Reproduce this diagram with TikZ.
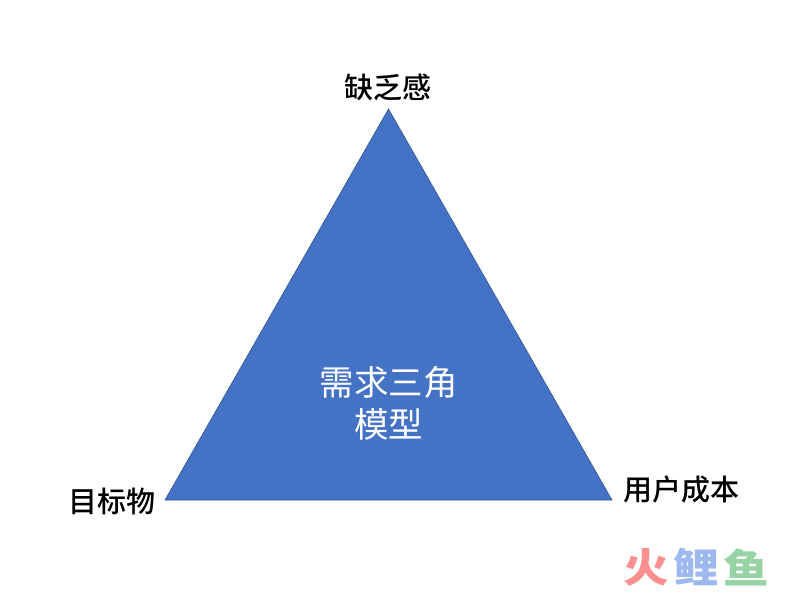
\documentclass[tikz,border=0pt]{standalone}
\usepackage{fontspec}
\setmainfont{Noto Sans CJK SC}
\newfontfamily\cornerfont{Noto Sans CJK SC Medium}
\usetikzlibrary{positioning}
\definecolor{triblue}{HTML}{4472C4}
\definecolor{triedge}{HTML}{2F528F}
\definecolor{markred}{HTML}{FB8E8E}
\definecolor{markblue}{HTML}{9DB9F0}
\definecolor{markgreen}{HTML}{97D3A5}
\tikzset{
    cornerlabel/.style={font=\cornerfont\fontsize{29pt}{32pt}\selectfont,text=black,inner sep=0pt},
    modeltext/.style={font=\fontsize{34.5pt}{42pt}\selectfont,text=white,align=center,inner sep=0pt},
    logopart/.style={font=\bfseries\fontsize{40pt}{44pt}\selectfont,inner sep=0pt,xscale=1.14}
}
\begin{document}
\begin{tikzpicture}[x=1pt,y=-1pt]
    \useasboundingbox (0,0) rectangle (792,592);
    \coordinate (top) at (388.5,109);
    \coordinate (left) at (165,500);
    \coordinate (right) at (612,500);
    \draw[triedge,fill=triblue,line width=0.6pt] (top) -- (right) -- (left) -- cycle;
    \node[modeltext] (model) at (388.5,403) {需求三角\\模型};
    \node[cornerlabel] (need) at (388,87) {缺乏感};
    \node[cornerlabel] (target) at (112,501) {目标物};
    \node[cornerlabel] (cost) at (681,490) {用户成本};
    \node[logopart,text=markred] (huo) at (646,567) {火};
    \node[logopart,text=markblue] (li) at (696,567) {鲤};
    \node[logopart,text=markgreen] (yu) at (746,567) {鱼};
\end{tikzpicture}
\end{document}
